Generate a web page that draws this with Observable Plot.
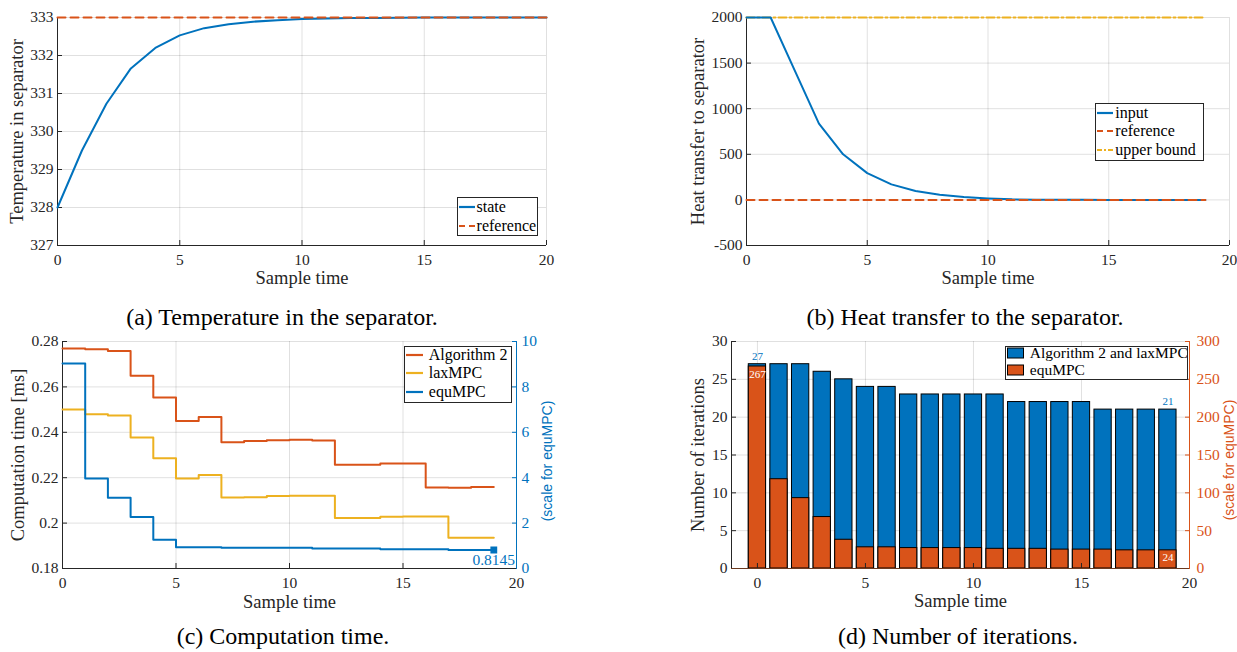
<!DOCTYPE html>
<html><head><meta charset="utf-8">
<script src="https://cdn.jsdelivr.net/npm/d3@7"></script>
<script src="https://cdn.jsdelivr.net/npm/@observablehq/plot@0.6"></script>
<style>
body{margin:0;background:#fff;width:1237px;height:652px;position:relative;overflow:hidden;font-family:"Liberation Serif","Times New Roman",serif;}
.panel{position:absolute;}
.panel svg{overflow:visible;}
.caption{position:absolute;font-family:"Liberation Serif","Times New Roman",serif;font-size:24px;color:#000;white-space:nowrap;transform:translate(-50%,-50%);line-height:1;}
.legend{position:absolute;box-sizing:border-box;border:1px solid #262626;background:#fff;font-family:"Liberation Serif","Times New Roman",serif;font-size:16px;color:#000;}
.lrow{position:absolute;left:0;height:20px;line-height:20px;white-space:nowrap;}
.lrow svg{position:absolute;top:0;}
.lrow span{position:absolute;top:0;}
</style></head>
<body>
<script>
// ---------- DATA ----------
// (a) Temperature in separator
const tempTime = [0,1,2,3,4,5,6,7,8,9,10,11,12,13,14,15,16,17,18,19,20];
const tempState = [328,329.5,330.73,331.66,332.2,332.53,332.72,332.82,332.89,332.93,332.96,332.975,332.985,332.99,332.995,332.997,332.998,332.999,333,333,333];
const tempRefTime = [0,20];
const tempRef = [333,333];
const aXTicks = [0,5,10,15,20];
const aYTicks = [327,328,329,330,331,332,333];

// (b) Heat transfer to separator
const heatTime = [0,1,2,3,4,5,6,7,8,9,10,11,12,13,14,15,16,17,18,19];
const heatInput = [2000,2000,1418,836,500,294,170,97,57,31,16,6,3,1,0.5,0.2,0.1,0,0,0];
const heatRefTime = [0,19];
const heatRef = [0,0];
const heatUpper = [2000,2000];
const bXTicks = [0,5,10,15,20];
const bYTicks = [-500,0,500,1000,1500,2000];

// (c) Computation time
const compTime = [0,1,2,3,4,5,6,7,8,9,10,11,12,13,14,15,16,17,18,19];
const compAlg2 = [0.2769,0.2766,0.2758,0.2649,0.2553,0.2450,0.2467,0.2356,0.2362,0.2365,0.2367,0.2364,0.2257,0.2257,0.2263,0.2263,0.2157,0.2156,0.2159,0.2159];
const compLax  = [0.2500,0.2479,0.2474,0.2377,0.2286,0.2197,0.2212,0.2113,0.2114,0.2119,0.2120,0.2120,0.2022,0.2023,0.2028,0.2029,0.2029,0.1935,0.1935,0.1935];
const compEqu  = [9.03,3.97,3.12,2.27,1.27,0.94,0.94,0.91,0.91,0.91,0.91,0.88,0.88,0.88,0.85,0.85,0.85,0.8145,0.8145,0.8145];
const compEquLast = "0.8145";
const cXTicks = [0,5,10,15,20];
const cYTicks = [0.18,0.2,0.22,0.24,0.26,0.28];
const cY2Ticks = [0,2,4,6,8,10];

// (d) Number of iterations
const iterTime = [0,1,2,3,4,5,6,7,8,9,10,11,12,13,14,15,16,17,18,19];
const iterAlg2Lax = [27,27,27,26,25,24,24,23,23,23,23,23,22,22,22,22,21,21,21,21];
const iterEqu = [267,118,93,68,38,28,28,27,27,27,27,26,26,26,25,25,25,24,24,24];
const dXTicks = [0,5,10,15,20];
const dYTicks = [0,5,10,15,20,25,30];
const dY2Ticks = [0,50,100,150,200,250,300];

// ---------- STYLE ----------
const BLUE="#0072BD", ORANGE="#D95319", YELLOW="#EDB120", AX="#262626";
const SERIF = "'Liberation Serif','Times New Roman',serif";
const SANS = "'Liberation Sans',Arial,sans-serif";
const gridStyle = {stroke:"#000", strokeOpacity:0.12};
const baseStyle = {fontFamily: SERIF, fontSize: "15.5px", color: AX, background: "transparent", overflow: "visible"};

function place(svg, left, top){
  const d = document.createElement("div");
  d.className = "panel"; d.style.left = left+"px"; d.style.top = top+"px";
  d.appendChild(svg); document.body.appendChild(d);
}
function caption(text, cx, cy){
  const d = document.createElement("div");
  d.className = "caption"; d.textContent = text;
  d.style.left = cx+"px"; d.style.top = cy+"px";
  document.body.appendChild(d);
}
function legend(box, items, fontSize){
  const div = document.createElement("div");
  div.className = "legend";
  Object.assign(div.style, {left:box.x+"px", top:box.y+"px", width:box.w+"px", height:box.h+"px"});
  if (fontSize) div.style.fontSize = fontSize;
  items.forEach(it => {
    const row = document.createElement("div");
    row.className = "lrow";
    row.style.top = (it.cy - box.y - 1 - 10) + "px";
    let sw;
    if (it.kind === "rect") {
      sw = `<svg width="${box.sw}" height="20" style="left:${box.so}px"><rect x="0.5" y="5" width="${box.sw-1}" height="10" fill="${it.color}" stroke="#000" stroke-width="1"/></svg>`;
    } else {
      sw = `<svg width="${box.sw}" height="20" style="left:${box.so}px"><line x1="0" x2="${box.sw}" y1="10" y2="10" stroke="${it.color}" stroke-width="2.2" ${it.dash?`stroke-dasharray="${it.dash}"`:""}/></svg>`;
    }
    row.innerHTML = sw + `<span style="left:${box.to}px">${it.label}</span>`;
    div.appendChild(row);
  });
  document.body.appendChild(div);
}
function inTicksX(ticks){ return Plot.axisX(ticks, {tickSize:-5, tickFormat:()=>"", label:null, stroke:AX}); }
function yLabel(text, dx, opts={}){ return Plot.text([text], {frameAnchor:"left", dx, rotate:-90, textAnchor:"middle", lineAnchor:"middle", fontSize:18.5, fill:AX, ...opts}); }
function y2Label(text, dx, opts={}){ return Plot.text([text], {frameAnchor:"right", dx, rotate:-90, textAnchor:"middle", lineAnchor:"middle", fontSize:14, fontFamily:SANS, ...opts}); }
function xLabel(text, dy){ return Plot.text([text], {frameAnchor:"bottom", dy, textAnchor:"middle", lineAnchor:"middle", fontSize:18.5, fill:AX}); }

// ---------- (a) ----------
place(Plot.plot({
  width:560, height:300, marginLeft:57, marginRight:14, marginTop:17, marginBottom:55,
  style: baseStyle,
  x:{domain:[0,20]}, y:{domain:[327,333]},
  marks:[
    Plot.gridX(aXTicks, gridStyle),
    Plot.gridY(aYTicks, gridStyle),
    Plot.axisX(aXTicks, {tickSize:0, tickPadding:8, label:null}),
    inTicksX(aXTicks),
    Plot.axisY(aYTicks, {tickSize:0, tickPadding:4, label:null}),
    Plot.axisY(aYTicks, {tickSize:-5, tickFormat:()=>"", label:null}),
    Plot.ruleX([0], {stroke:AX}),
    Plot.ruleY([327], {stroke:AX}),
    Plot.lineY(tempState, {x:tempTime, stroke:BLUE, strokeWidth:2}),
    Plot.lineY(tempRef, {x:tempRefTime, stroke:ORANGE, strokeWidth:2, strokeDasharray:"8,5"}),
    yLabel("Temperature in separator", -40),
    xLabel("Sample time", 33)
  ]
}), 0, 0);

// ---------- (b) ----------
place(Plot.plot({
  width:557, height:300, marginLeft:66, marginRight:8, marginTop:17, marginBottom:55,
  style: baseStyle,
  x:{domain:[0,20]}, y:{domain:[-500,2000]},
  marks:[
    Plot.gridX(bXTicks, gridStyle),
    Plot.gridY(bYTicks, gridStyle),
    Plot.axisX(bXTicks, {tickSize:0, tickPadding:8, label:null}),
    inTicksX(bXTicks),
    Plot.axisY(bYTicks, {tickSize:0, tickPadding:4, label:null, tickFormat:d=>String(d)}),
    Plot.axisY(bYTicks, {tickSize:-5, tickFormat:()=>"", label:null}),
    Plot.ruleX([0], {stroke:AX}),
    Plot.ruleY([-500], {stroke:AX}),
    Plot.lineY(heatUpper, {x:heatRefTime, stroke:YELLOW, strokeWidth:2, strokeDasharray:"8,3,2,3"}),
    Plot.lineY(heatInput, {x:heatTime, stroke:BLUE, strokeWidth:2}),
    Plot.lineY(heatRef, {x:heatRefTime, stroke:ORANGE, strokeWidth:2, strokeDasharray:"8,5"}),
    yLabel("Heat transfer to separator", -48),
    xLabel("Sample time", 33)
  ]
}), 680, 0);

// ---------- (c) ----------
const cToLeft = v => 0.18 + v*0.01;
place(Plot.plot({
  width:600, height:290, marginLeft:62, marginRight:84, marginTop:21, marginBottom:42,
  style: baseStyle,
  x:{domain:[0,20]}, y:{domain:[0.18,0.28]},
  marks:[
    Plot.gridX(cXTicks, gridStyle),
    Plot.gridY(cYTicks, gridStyle),
    Plot.axisX(cXTicks, {tickSize:0, tickPadding:8, label:null}),
    inTicksX(cXTicks),
    Plot.axisY(cYTicks, {tickSize:0, tickPadding:4, label:null, tickFormat:d=>d3.format("~g")(d)}),
    Plot.axisY(cYTicks, {tickSize:-5, tickFormat:()=>"", label:null}),
    Plot.axisY(cY2Ticks.map(cToLeft), {anchor:"right", tickSize:0, tickPadding:5, label:null, color:BLUE, tickFormat:d=>String(Math.round((d-0.18)*100))}),
    Plot.axisY(cY2Ticks.map(cToLeft), {anchor:"right", tickSize:-5, tickFormat:()=>"", label:null, color:BLUE}),
    Plot.ruleX([0], {stroke:AX}),
    Plot.ruleY([0.18], {stroke:AX}),
    Plot.ruleX([20], {stroke:BLUE}),
    Plot.lineY(compAlg2, {x:compTime, stroke:ORANGE, strokeWidth:2, curve:"step-after"}),
    Plot.lineY(compLax, {x:compTime, stroke:YELLOW, strokeWidth:2, curve:"step-after"}),
    Plot.lineY(compEqu.map(cToLeft), {x:compTime, stroke:BLUE, strokeWidth:2, curve:"step-after"}),
    Plot.dot([compEqu[compEqu.length-1]].map(cToLeft), {x:[compTime[compTime.length-1]], y:d=>d, symbol:"square", r:3, fill:BLUE, stroke:BLUE}),
    Plot.text([compEquLast], {x:[compTime[compTime.length-1]], y:[cToLeft(compEqu[compEqu.length-1])], dy:10, fill:BLUE, fontSize:15.5}),
    yLabel("Computation time [ms]", -44.5),
    y2Label("(scale for equMPC)", 31.5, {dy:6, fill:BLUE}),
    xLabel("Sample time", 33.4)
  ]
}), 0, 320);

// ---------- (d) ----------
const dToLeft = v => v/10;
const dXDomain = [-1.2, 20];
const barHalf = 0.4;
place(Plot.plot({
  width:557, height:290, marginLeft:51, marginRight:48, marginTop:21, marginBottom:42,
  style: baseStyle,
  x:{domain:dXDomain}, y:{domain:[0,30]},
  marks:[
    Plot.gridX(dXTicks, gridStyle),
    Plot.gridY(dYTicks, gridStyle),
    Plot.rectY(iterAlg2Lax, {x1:iterTime.map(t=>t-barHalf), x2:iterTime.map(t=>t+barHalf), y:d=>d, fill:BLUE, stroke:"#000", strokeWidth:1}),
    Plot.rectY(iterEqu.map(dToLeft), {x1:iterTime.map(t=>t-barHalf), x2:iterTime.map(t=>t+barHalf), y:d=>d, fill:ORANGE, stroke:"#000", strokeWidth:1}),
    Plot.axisX(dXTicks, {tickSize:0, tickPadding:8, label:null}),
    inTicksX(dXTicks),
    Plot.axisY(dYTicks, {tickSize:0, tickPadding:4, label:null}),
    Plot.axisY(dYTicks, {tickSize:-5, tickFormat:()=>"", label:null}),
    Plot.axisY(dY2Ticks.map(dToLeft), {anchor:"right", tickSize:0, tickPadding:7, label:null, color:ORANGE, tickFormat:d=>String(Math.round(d*10))}),
    Plot.axisY(dY2Ticks.map(dToLeft), {anchor:"right", tickSize:-5, tickFormat:()=>"", label:null, color:ORANGE}),
    Plot.ruleX([dXDomain[0]], {stroke:AX}),
    Plot.ruleX([20], {stroke:ORANGE}),
    Plot.ruleY([0], {stroke:"#6b3a20"}),
    Plot.text([iterAlg2Lax[0]], {x:[iterTime[0]], y:d=>d, dy:-8, fill:BLUE, fontSize:11}),
    Plot.text([iterEqu[0]], {x:[iterTime[0]], y:d=>dToLeft(d), dy:8, fill:"#fff", fontSize:11}),
    Plot.text([iterAlg2Lax[19]], {x:[iterTime[19]], y:d=>d, dy:-8, fill:BLUE, fontSize:11}),
    Plot.text([iterEqu[19]], {x:[iterTime[19]], y:d=>dToLeft(d), dy:7, fill:"#fff", fontSize:11}),
    yLabel("Number of iterations", -33),
    y2Label("(scale for equMPC)", 40, {dy:5, fill:ORANGE}),
    xLabel("Sample time", 33)
  ]
}), 680, 320);

// ---------- legends ----------
legend({x:456.6, y:197, w:81, h:39, sw:16, so:1, to:19}, [
  {label:"state", color:BLUE, cy:207.3},
  {label:"reference", color:ORANGE, dash:"6,4", cy:225.7}
]);
legend({x:1095.3, y:102.7, w:109, h:58, sw:16, so:1, to:19}, [
  {label:"input", color:BLUE, cy:112.7},
  {label:"reference", color:ORANGE, dash:"6,4", cy:131},
  {label:"upper bound", color:YELLOW, dash:"5,2,2,2", cy:150}
]);
legend({x:403.8, y:345.7, w:108, h:57, sw:17, so:1, to:24}, [
  {label:"Algorithm 2", color:ORANGE, cy:355},
  {label:"laxMPC", color:YELLOW, cy:373.3},
  {label:"equMPC", color:BLUE, cy:391.7}
]);
legend({x:1004.8, y:345.7, w:183, h:34.5, sw:17, so:1, to:24}, [
  {label:"Algorithm 2 and laxMPC", kind:"rect", color:BLUE, cy:353.3},
  {label:"equMPC", kind:"rect", color:ORANGE, cy:370}
], "15.5px");

// ---------- captions ----------
caption("(a) Temperature in the separator.", 282, 317);
caption("(b) Heat transfer to the separator.", 965, 317);
caption("(c) Computation time.", 283, 636);
caption("(d) Number of iterations.", 958, 636);
</script>
</body></html>
